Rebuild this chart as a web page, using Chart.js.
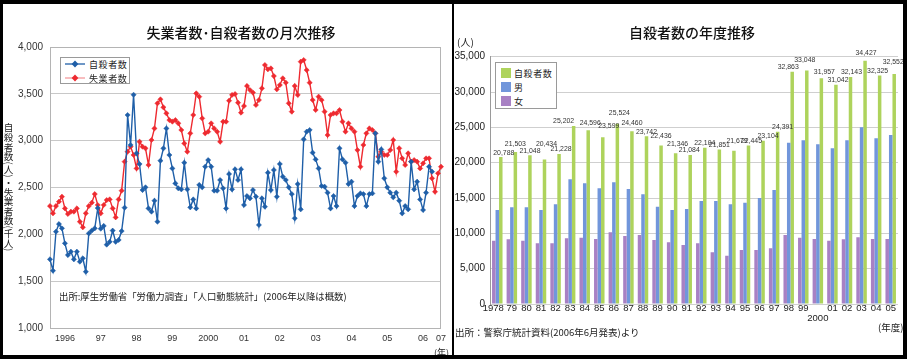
<!DOCTYPE html>
<html><head><meta charset="utf-8">
<script src="https://cdn.jsdelivr.net/npm/chart.js@4/dist/chart.umd.min.js"></script>
<style>
html,body{margin:0;padding:0;background:#000;width:907px;height:359px;overflow:hidden;font-family:"Noto Sans CJK JP","Liberation Sans",sans-serif;}
.panel{position:absolute;background:#fff;overflow:hidden;}
#pl{left:3px;top:4px;width:449px;height:351px;}
#pr{left:454px;top:4px;width:449px;height:351px;}
.abs{position:absolute;white-space:nowrap;color:#222;line-height:1;}
canvas{position:absolute;left:0;top:0;}
.title{font-size:14px;font-weight:500;color:#111;transform:translate(-50%,-50%);}
.note{font-size:9.4px;color:#222;}
.lg{position:absolute;border:1px solid #9a9a9a;background:#fff;box-sizing:border-box;}
.lgrow{position:absolute;left:0;height:12px;font-size:9px;letter-spacing:0.6px;color:#222;}
.sw{position:absolute;width:10px;height:10px;}
.vt{position:absolute;writing-mode:vertical-rl;text-orientation:mixed;font-size:9.6px;color:#222;line-height:1;}
</style></head><body>
<div id="pl" class="panel">
  <canvas id="c1" width="449" height="351"></canvas>
  <div class="abs title" style="left:238px;top:28px;">失業者数･自殺者数の月次推移</div>
  <div class="vt" style="left:0px;top:119px;">自殺者数(人)・失業者数(千人)</div>
  <div class="lg" style="left:57px;top:53px;width:70px;height:27px;">
    <svg style="position:absolute;left:0;top:0" width="70" height="27">
      <line x1="4" y1="6" x2="24" y2="6" stroke="#1f5fa8" stroke-width="1.3"/>
      <rect x="11.6" y="3.6" width="4.8" height="4.8" fill="#1f5fa8" transform="rotate(45 14 6)"/>
      <line x1="4" y1="20" x2="24" y2="20" stroke="#f59a9c" stroke-width="1.3"/>
      <rect x="11.6" y="17.6" width="4.8" height="4.8" fill="#ee2a30" transform="rotate(45 14 20)"/>
    </svg>
    <div class="lgrow" style="left:28px;top:0px;">自殺者数</div>
    <div class="lgrow" style="left:28px;top:14px;">失業者数</div>
  </div>
  <div class="abs note" style="left:56px;top:288px;">出所:厚生労働省「労働力調査」「人口動態統計」(2006年以降は概数)</div>
  <div class="abs" style="left:431px;top:344px;font-size:9px;color:#222;">(年)</div>
</div>
<div id="pr" class="panel">
  <canvas id="c2" width="449" height="351"></canvas>
  <div class="abs title" style="left:238px;top:28px;">自殺者数の年度推移</div>
  <div class="abs" style="left:3px;top:33px;font-size:10px;">(人)</div>
  <div class="lg" style="left:41px;top:58px;width:62px;height:47px;">
    <div class="sw" style="left:5px;top:5px;background:#aed35c;"></div>
    <div class="sw" style="left:5px;top:19px;background:#7196db;"></div>
    <div class="sw" style="left:5px;top:33px;background:#a881c4;"></div>
    <div class="lgrow" style="left:18px;top:4px;">自殺者数</div>
    <div class="lgrow" style="left:18px;top:18px;">男</div>
    <div class="lgrow" style="left:18px;top:32px;">女</div>
  </div>
  <div class="abs" style="left:424px;top:319px;font-size:9.5px;">(年度)</div>
  <div class="abs note" style="left:1px;top:324px;font-size:9.5px;">出所：警察庁統計資料(2006年6月発表)より</div>
</div>
<script>
// ---------- data: monthly chart ----------
const monthYears = ['1996','1997','1998','1999','2000','2001','2002','2003','2004','2005','2006'];
const monthNums = ['01','02','03','04','05','06','07','08','09','10','11','12'];
const yearTicks = ['1996','97','98','99','2000','01','02','03','04','05','06','07'];
const suicidesMonthly = [
 1733,1612,2028,2110,2064,1904,1779,1815,1733,1815,1708,1744,
 1601,2010,2040,2064,2280,2060,2090,1890,1920,2040,1920,1940,
 2035,2285,3274,2954,3490,2865,2750,2473,2502,2277,2242,2359,
 2135,2786,2918,3131,2847,2704,2544,2491,2480,2765,2480,2288,
 2373,2277,2527,2502,2722,2793,2722,2466,2466,2580,2491,2277,
 2644,2480,2694,2580,2694,2313,2409,2384,2473,2402,2100,2384,
 2295,2658,2473,2687,2402,2751,2616,2580,2502,2430,2171,2537,
 2267,3014,3096,3114,2872,2800,2704,2516,2509,2445,2277,2409,
 2302,2918,2800,2765,2537,2562,2302,2409,2437,2430,2302,2430,
 2437,3078,2776,2907,2598,2502,2445,2395,2445,2359,2224,2302,
 2267,2776,2480,2562,2373,2260,2445,2722,2669
];
const unemployedMonthly = [
 2302,2224,2302,2349,2402,2277,2217,2242,2242,2277,2135,2075,
 2224,2302,2338,2430,2313,2224,2313,2366,2373,2277,2181,2373,
 2466,2776,2882,2936,2847,2704,2989,2936,2918,2740,3007,3131,
 3399,3441,3356,3292,3220,3203,3220,3185,3114,2971,2882,3078,
 3274,3505,3470,3238,3078,3096,3185,3131,3096,2989,3203,3203,
 3427,3488,3498,3406,3299,3370,3584,3541,3513,3381,3434,3559,
 3808,3762,3772,3690,3548,3594,3666,3619,3399,3310,3584,3488,
 3843,3861,3754,3619,3434,3328,3470,3434,3310,3060,3274,3292,
 3292,3327,3203,3096,3185,3131,3096,2900,2722,2954,3078,3131,
 3114,3078,2829,2882,2847,2847,2900,3007,2669,2918,2811,2740,
 2865,2776,2793,2776,2704,2758,2811,2811,2598,2455,2651,2722
];
// ---------- data: fiscal-year chart ----------
const fiscalYears = ['1978','79','80','81','82','83','84','85','86','87','88','89','90','91','92','93','94','95','96','97','98','99','2000','01','02','03','04','05'];
const suicideTotal = [20788,21503,21048,20434,21228,25202,24596,23599,25524,24460,23742,22436,21346,21084,22104,21851,21679,22445,23104,24391,32863,33048,31957,31042,32143,34427,32325,32552];
const suicideMale = [13300,13680,13680,13300,14110,17650,17080,16370,17220,16280,15530,13770,13300,13440,14580,14580,14110,14340,15000,16130,22830,23160,22600,22030,23160,25010,23450,23920];
const suicideFemale = [8960,9150,8960,8590,8590,9300,9390,9200,10150,9620,9770,9060,8730,8350,8590,7320,6840,7640,7640,7880,9770,9390,9200,8960,9150,9440,9200,9200];
// style only: value-label placement relative to its bar (px)
const labelRaise = [4.5,8,4.5,15.5,4.5,4.5,7,11.3,10.6,8.5,4.5,9.5,9.2,4.5,5.1,4.5,10,4.5,4.5,4.5,4.5,10,6.5,4.5,5.2,7.4,4.5,12];
const labelShift = [3,0,0,2,2,-10,2,6,2,0,0,0,2,-1,0,0,3,3,5,5,-4,-2,3,2,1,1,-2,-1];

const monthCats = [];
monthYears.forEach(y => monthNums.forEach(m => monthCats.push(y + '/' + m)));

const numFmt = v => Number(v).toLocaleString('en-US');
const tickFont = {family:'"Liberation Sans", "Noto Sans CJK JP", sans-serif', size:10, lineHeight:1};

const framePlugin = {
  id:'frame',
  beforeDatasetsDraw(chart){
    const a = chart.chartArea, c = chart.ctx;
    c.save(); c.strokeStyle = '#b4b4b4'; c.lineWidth = 1;
    c.strokeRect(Math.round(a.left)+0.5, Math.round(a.top)+0.5, Math.round(a.right-a.left)-1, Math.round(a.bottom-a.top));
    c.restore();
  }
};

new Chart(document.getElementById('c1'), {
  type:'line',
  data:{
    labels: monthCats,
    datasets:[
      {label:'自殺者数', data: suicidesMonthly, borderColor:'#1f5fa8', backgroundColor:'#1f5fa8', borderWidth:1.4,
       pointStyle:'rectRot', pointRadius:2.6, pointBorderWidth:0.5, tension:0},
      {label:'失業者数', data: unemployedMonthly, borderColor:'#ee2a30', backgroundColor:'#ee2a30', borderWidth:1.4,
       pointStyle:'rectRot', pointRadius:2.6, pointBorderWidth:0.5, tension:0}
    ]
  },
  options:{
    responsive:false, animation:false, devicePixelRatio:1,
    layout:{padding:{top:43, right:4, left:0, bottom:0}},
    plugins:{legend:{display:false}, tooltip:{enabled:false}},
    scales:{
      x:{
        type:'category', offset:false,
        grid:{display:false, drawTicks:false}, border:{display:false},
        ticks:{autoSkip:false, maxRotation:0, minRotation:0, padding:6, color:'#333',
          font:{...tickFont, size:9},
          callback:(v,i)=>{ if(i%12===5) return yearTicks[Math.floor(i/12)]; if(i===monthCats.length-1) return yearTicks[yearTicks.length-1]; return ''; }},
        afterFit:s=>{s.height=27;}
      },
      y:{
        min:1000, max:4000,
        grid:{color:'#c8c8c8', drawTicks:false, lineWidth:1}, border:{display:false},
        ticks:{stepSize:500, padding:7, color:'#333', font:tickFont, callback:numFmt},
        afterFit:s=>{s.width=47;}
      }
    }
  },
  plugins:[framePlugin]
});

const valueLabels = {
  id:'valueLabels',
  afterDatasetsDraw(chart){
    const meta = chart.getDatasetMeta(2), c = chart.ctx;
    c.save();
    c.font = '6.9px "Liberation Sans", sans-serif';
    c.fillStyle = '#333'; c.textAlign = 'center'; c.textBaseline = 'middle';
    meta.data.forEach((el,i)=>{
      c.fillText(numFmt(suicideTotal[i]), el.x + labelShift[i], el.y - labelRaise[i]);
    });
    c.restore();
  }
};

new Chart(document.getElementById('c2'), {
  type:'bar',
  data:{
    labels: fiscalYears,
    datasets:[
      {label:'女', data: suicideFemale, backgroundColor:'#a881c4', borderWidth:0},
      {label:'男', data: suicideMale, backgroundColor:'#7196db', borderWidth:0},
      {label:'自殺者数', data: suicideTotal, backgroundColor:'#aed35c', borderWidth:0}
    ]
  },
  options:{
    responsive:false, animation:false, devicePixelRatio:1,
    layout:{padding:{top:52.7, right:5, left:0, bottom:0}},
    plugins:{legend:{display:false}, tooltip:{enabled:false}},
    datasets:{bar:{categoryPercentage:0.72, barPercentage:1.0}},
    scales:{
      x:{
        grid:{display:false, drawTicks:false}, border:{display:false},
        ticks:{autoSkip:false, maxRotation:0, minRotation:0, padding:0, color:'#222', font:{...tickFont, size:9.5},
          callback:(v,i)=> fiscalYears[i]==='2000' ? ['', fiscalYears[i]] : (i===0 ? fiscalYears[i] + '\u00a0\u00a0\u00a0' : fiscalYears[i])},
        afterFit:s=>{s.height=51;}
      },
      y:{
        min:0, max:35000,
        grid:{color:'#cfcfcf', drawTicks:false}, border:{display:true, color:'#9a9a9a'},
        ticks:{stepSize:5000, padding:5, color:'#222', font:tickFont, callback:numFmt},
        afterFit:s=>{s.width=36;}
      }
    }
  },
  plugins:[valueLabels]
});
</script>
</body></html>
